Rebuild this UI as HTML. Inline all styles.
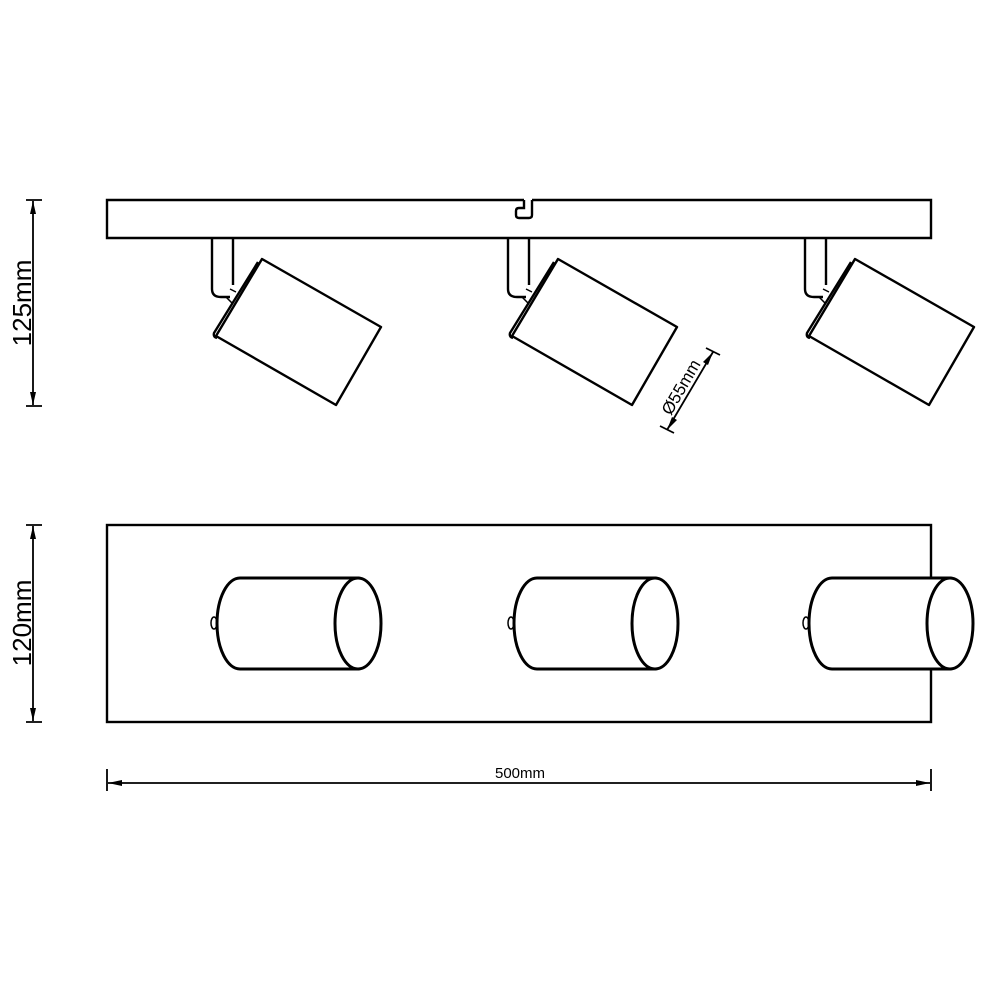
<!DOCTYPE html>
<html><head><style>html,body{margin:0;padding:0;background:#fff}svg{display:block}</style></head>
<body>
<svg width="1000" height="1000" viewBox="0 0 1000 1000" xmlns="http://www.w3.org/2000/svg" font-family="Liberation Sans, sans-serif">
<defs>
<g id="spot" fill="#fff" stroke="#000" stroke-width="2.4" stroke-linejoin="round">
  <path d="M212,239 V289 Q212,297 221,297 H230 M233,239 V285"/>
  <path d="M226,297 L232,303 M230,289 L236,292" stroke-width="1.5"/>
  <path d="M262,259 L381,327 L336,405 L216,336 Z"/>
  <path d="M258,262 L214,333 Q213,337 217,338" fill="none"/>
</g>
<g id="cyl" stroke="#000" stroke-width="3">
  <ellipse cx="214" cy="623" rx="3" ry="6" fill="#fff" stroke-width="1.5"/>
  <path d="M240,578 H358 V669 H240 A23,45.5 0 0 1 240,578 Z" fill="#fff"/>
  <ellipse cx="358" cy="623.5" rx="23" ry="45.5" fill="#fff"/>
</g>
</defs>
<g fill="none" stroke="#000" stroke-width="2.4">
  <path d="M532,200 H931 V238 H107 V200 H524"/>
  <path d="M532,200 V215 Q532,218 529,218 H519 Q516,218 516,215 V211 Q516,208 519,208 H524 V200" />
  <rect x="107" y="525" width="824" height="197" fill="#fff"/>
</g>
<use href="#spot"/>
<use href="#spot" transform="translate(296,0)"/>
<use href="#spot" transform="translate(593,0)"/>
<use href="#cyl"/>
<use href="#cyl" transform="translate(297,0)"/>
<use href="#cyl" transform="translate(592,0)"/>
<g stroke="#000" stroke-width="1.8" fill="none">
  <path d="M26,200 H42 M26,406 H42 M33,201 V405"/>
  <path d="M26,525 H42 M26,722 H42 M33,526 V721"/>
  <path d="M107,769 V791 M931,769 V791 M108,783 H930"/>
  <path d="M706,348 L720,355 M660,426 L674,433 M713,352 L667,430"/>
</g>
<g fill="#000">
  <path d="M33,201 L30,214 L36,214 Z M33,405 L30,392 L36,392 Z"/>
  <path d="M33,526 L30,539 L36,539 Z M33,721 L30,708 L36,708 Z"/>
  <path d="M108,783 L122,780 L122,786 Z M930,783 L916,780 L916,786 Z"/>
  <path d="M713,352 L703,362 L708,365 Z M667,430 L677,420 L672,417 Z"/>
</g>
<text x="0" y="0" font-size="26" text-anchor="middle" transform="translate(31,303) rotate(-90)">125mm</text>
<text x="0" y="0" font-size="26" text-anchor="middle" transform="translate(31,623) rotate(-90)">120mm</text>
<text x="520" y="778" font-size="15" text-anchor="middle">500mm</text>
<text x="0" y="0" font-size="17" text-anchor="middle" transform="translate(686,390) rotate(-60)">Ø55mm</text>
</svg>
</body></html>
